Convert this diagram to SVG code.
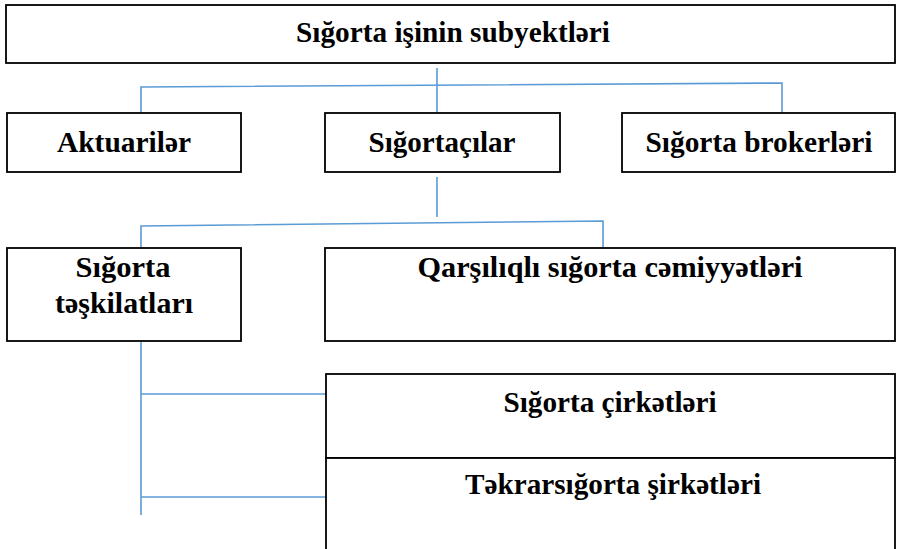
<svg xmlns="http://www.w3.org/2000/svg" width="898" height="549" viewBox="0 0 898 549">
<style>
.box{fill:#fff;stroke:#000;stroke-width:1.8}
.t{font-family:"Liberation Serif","Times New Roman",serif;font-weight:bold;font-size:30px;fill:#000;text-anchor:middle}
.c{fill:none;stroke:#5B9BD5;stroke-width:1.6}
</style>
<rect width="898" height="549" fill="#fff"/>
<g id="connectors">
<path class="c" d="M437 68V113M141 113V87L782 83V113"/>
<path class="c" d="M437 177V217M141 249V226L603 221V249"/>
<path class="c" d="M141 342V515M141 394H326M141 497H326"/>
</g>
<g id="root"><rect class="box" x="6" y="5" width="889" height="58"/><text class="t" x="453" y="42" textLength="314" lengthAdjust="spacingAndGlyphs">Sığorta işinin subyektləri</text></g>
<g id="aktuariler"><rect class="box" x="7" y="113" width="234" height="59"/><text class="t" x="124" y="152" textLength="134" lengthAdjust="spacingAndGlyphs">Aktuarilər</text></g>
<g id="sigortacilar"><rect class="box" x="325" y="113" width="235" height="59"/><text class="t" x="442" y="152" textLength="147" lengthAdjust="spacingAndGlyphs">Sığortaçılar</text></g>
<g id="brokerler"><rect class="box" x="622" y="113" width="273" height="59"/><text class="t" x="759" y="152" textLength="227" lengthAdjust="spacingAndGlyphs">Sığorta brokerləri</text></g>
<g id="teskilatlar"><rect class="box" x="7" y="248" width="234" height="93"/><text class="t" x="123" y="277" textLength="95" lengthAdjust="spacingAndGlyphs">Sığorta</text><text class="t" x="124" y="313" textLength="138" lengthAdjust="spacingAndGlyphs">təşkilatları</text></g>
<g id="qarsiliqli"><rect class="box" x="325" y="248" width="570" height="93"/><text class="t" x="610" y="277" textLength="385" lengthAdjust="spacingAndGlyphs">Qarşılıqlı sığorta cəmiyyətləri</text></g>
<g id="sirketler"><rect class="box" x="326" y="374" width="569" height="84"/><text class="t" x="610" y="412" textLength="213" lengthAdjust="spacingAndGlyphs">Sığorta çirkətləri</text></g>
<g id="tekrar"><rect class="box" x="326" y="458" width="569" height="100"/><text class="t" x="613" y="494" textLength="296" lengthAdjust="spacingAndGlyphs">Təkrarsığorta şirkətləri</text></g>
</svg>
